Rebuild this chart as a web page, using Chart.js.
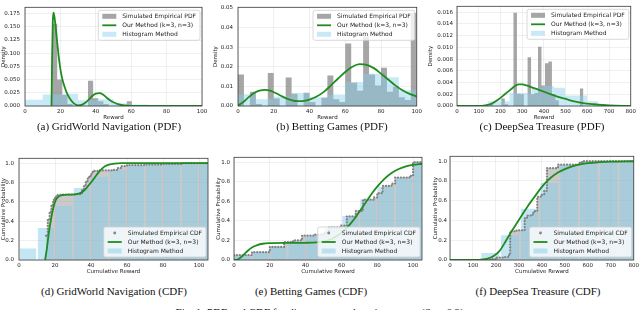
<!DOCTYPE html>
<html>
<head>
<meta charset="utf-8">
<script src="https://cdn.jsdelivr.net/npm/chart.js@4.4.1/dist/chart.umd.min.js"></script>
<style>
  html, body { margin: 0; padding: 0; background: #fff; }
  body { width: 640px; height: 310px; position: relative; overflow: hidden; }
  canvas { position: absolute; }
  .cap { position: absolute; font-family: 'Liberation Serif', 'DejaVu Serif', serif; font-size: 11px; line-height: 13px; color: #111; white-space: nowrap; transform: translateX(-50%); }
</style>
</head>
<body>
<canvas id="gridPdf"></canvas>
<canvas id="betPdf"></canvas>
<canvas id="seaPdf"></canvas>
<canvas id="gridCdf"></canvas>
<canvas id="betCdf"></canvas>
<canvas id="seaCdf"></canvas>
<div class="cap" style="left:109px;top:120px">(a) GridWorld Navigation (PDF)</div>
<div class="cap" style="left:332px;top:120px">(b) Betting Games (PDF)</div>
<div class="cap" style="left:542px;top:120px">(c) DeepSea Treasure (PDF)</div>
<div class="cap" style="left:114px;top:285px">(d) GridWorld Navigation (CDF)</div>
<div class="cap" style="left:311px;top:285px">(e) Betting Games (CDF)</div>
<div class="cap" style="left:538px;top:285px">(f) DeepSea Treasure (CDF)</div>
<div class="cap" style="left:321px;top:306px">Fig. 1: PDF and CDF for discrete reward environments (Sec. 6.2).</div>
<script>
// ---- (a) GridWorld Navigation, PDF ----
const gridPdfGrayEdges = [15.3, 18.2, 21.1, 24, 26.9, 35.6, 38.5, 41.4, 44.3, 47.2, 57.5, 60.4];
const gridPdfGrayHeights = [0.156, 0.05, 0.021, 0.004, 0, 0.048, 0.0145, 0.009, 0.004, 0, 0.009];
const gridPdfHistEdges = [0, 10, 20, 30, 40, 50, 60, 70];
const gridPdfHistHeights = [0.012, 0.022, 0.023, 0.011, 0.013, 0.005, 0.003];
const gridPdfCurveX = [15, 15.3, 15.7, 16.1, 16.6, 17.3, 18, 19, 20, 21, 22.5, 24, 26, 28, 30, 32, 34, 36, 38, 40, 42, 44, 46, 48, 50, 53, 56, 60, 70, 100];
const gridPdfCurveY = [0, 0.09, 0.16, 0.177, 0.17, 0.15, 0.127, 0.095, 0.07, 0.052, 0.035, 0.022, 0.011, 0.004, 0.001, 0.002, 0.006, 0.012, 0.019, 0.0235, 0.0245, 0.022, 0.016, 0.011, 0.007, 0.003, 0.001, 0.0002, 0, 0];

// ---- (b) Betting Games, PDF ----
const betPdfGrayEdges = [0, 3.33, 6.67, 10, 13.33, 16.67, 20, 23.33, 26.67, 30, 33.33, 36.67, 40, 43.33, 46.67, 50, 53.33, 56.67, 60, 63.33, 66.67, 70, 73.33, 76.67, 80, 83.33, 86.67, 90, 93.33, 96.67, 100];
const betPdfGrayHeights = [0.016, 0, 0.0072, 0.001, 0, 0.0168, 0.0038, 0, 0.0145, 0.0062, 0, 0.0068, 0.002, 0, 0.0042, 0.0155, 0.0035, 0.002, 0.0318, 0.0118, 0.0078, 0.0355, 0.016, 0.0105, 0.0195, 0.0072, 0.0098, 0.0045, 0.003, 0.0475];
const betPdfHistEdges = [0, 10, 20, 30, 40, 50, 60, 70, 80, 90, 100];
const betPdfHistHeights = [0.006, 0.0034, 0.0048, 0.0066, 0.0044, 0.0058, 0.0122, 0.0164, 0.0146, 0.008];
const betPdfCurveX = [0, 3, 6, 9, 12, 15, 18, 21, 24, 27, 30, 33, 36, 40, 44, 48, 52, 56, 60, 64, 68, 72, 76, 80, 84, 88, 92, 96, 100];
const betPdfCurveY = [0.0003, 0.002, 0.0045, 0.0066, 0.0078, 0.0082, 0.0078, 0.0066, 0.0052, 0.0039, 0.003, 0.0025, 0.0025, 0.0032, 0.0048, 0.0072, 0.0105, 0.014, 0.0173, 0.02, 0.0213, 0.021, 0.0193, 0.0165, 0.0135, 0.0105, 0.008, 0.0062, 0.0048];

// ---- (c) DeepSea Treasure, PDF ----
const seaPdfGrayEdges = [150, 166, 204, 220, 236, 260, 276, 292, 308, 325, 341, 357, 373, 389, 405, 421, 437, 453, 469, 566, 582];
const seaPdfGrayHeights = [0.0003, 0, 0.0013, 0.0003, 0, 0.0159, 0.0021, 0.002, 0, 0.0083, 0.002, 0.0022, 0.0101, 0.0035, 0.0073, 0.0076, 0.002, 0.001, 0, 0.003];
const seaPdfHistEdges = [140, 191, 242, 293, 344, 395, 446, 497, 548, 599, 650];
const seaPdfHistHeights = [0.0008, 0.0008, 0.0022, 0.0022, 0.0031, 0.0034, 0.0031, 0.0018, 0.0018, 0.0008];
const seaPdfCurveX = [0, 100, 130, 160, 190, 220, 250, 270, 285, 300, 320, 350, 375, 410, 440, 470, 500, 540, 580, 630, 700, 800];
const seaPdfCurveY = [0, 0, 0.0001, 0.0004, 0.0011, 0.002, 0.0029, 0.0035, 0.0037, 0.00368, 0.0035, 0.0031, 0.0028, 0.0023, 0.0019, 0.0015, 0.0012, 0.0008, 0.0005, 0.0003, 0.0001, 0];

// ---- (d) GridWorld Navigation, CDF ----
const gridCdfEmpX = [15, 16, 17, 18, 19, 20, 21, 23, 32, 34, 35, 36, 37, 38, 39, 40, 41, 42, 45, 52, 55, 57, 60, 70, 80, 90, 105];
const gridCdfEmpY = [0.25, 0.42, 0.5, 0.57, 0.62, 0.655, 0.67, 0.675, 0.68, 0.69, 0.72, 0.76, 0.8, 0.84, 0.87, 0.89, 0.91, 0.92, 0.925, 0.93, 0.95, 0.97, 0.98, 0.985, 0.99, 1.0, 1.0];
const gridCdfBinCenters = [5, 15, 25, 35, 45, 55, 65, 75, 85, 95, 105];
const gridCdfBinHeights = [0.12, 0.33, 0.557, 0.743, 0.86, 0.933, 0.978, 0.985, 0.99, 0.995, 1.0];
const gridCdfCurveX = [14.5, 15.5, 16.5, 17.5, 18.5, 19.5, 20.5, 22, 24, 28, 32, 34, 36, 38, 40, 42, 44, 46, 48, 50, 53, 57, 105];
const gridCdfCurveY = [0, 0.12, 0.27, 0.39, 0.49, 0.57, 0.62, 0.655, 0.67, 0.675, 0.68, 0.69, 0.715, 0.755, 0.8, 0.85, 0.9, 0.94, 0.97, 0.985, 0.995, 1.0, 1.0];

// ---- (e) Betting Games, CDF ----
const betCdfEmpX = [0, 10, 20, 28, 33, 38, 45, 50, 53, 60, 63, 68, 72, 78, 80, 83, 88, 90, 98, 100, 105];
const betCdfEmpY = [0.05, 0.08, 0.133, 0.183, 0.2, 0.25, 0.26, 0.277, 0.333, 0.35, 0.445, 0.5, 0.617, 0.64, 0.683, 0.757, 0.78, 0.843, 0.86, 1.0, 1.0];
const betCdfBinCenters = [5, 15, 25, 35, 45, 55, 65, 75, 85, 95, 105];
const betCdfBinHeights = [0.05, 0.08, 0.14, 0.19, 0.25, 0.33, 0.45, 0.62, 0.75, 0.84, 1.0];
const betCdfCurveX = [0, 2, 4, 6, 8, 10, 13, 16, 20, 30, 40, 46, 50, 54, 58, 62, 65, 68, 71, 74, 77, 80, 84, 88, 92, 96, 100, 105];
const betCdfCurveY = [0, 0.005, 0.03, 0.065, 0.1, 0.128, 0.153, 0.166, 0.172, 0.175, 0.176, 0.18, 0.19, 0.21, 0.25, 0.31, 0.37, 0.44, 0.52, 0.6, 0.68, 0.75, 0.83, 0.89, 0.93, 0.958, 0.973, 0.984];

// ---- (f) DeepSea Treasure, CDF ----
const seaCdfEmpX = [150, 180, 205, 230, 255, 262, 290, 325, 335, 360, 370, 380, 395, 410, 422, 470, 565, 580, 800];
const seaCdfEmpY = [0.004, 0.01, 0.025, 0.03, 0.05, 0.29, 0.3, 0.42, 0.45, 0.48, 0.5, 0.64, 0.66, 0.7, 0.93, 0.965, 0.99, 1.0, 1.0];
const seaCdfBinCenters = [175, 261, 347, 433, 519, 605, 691, 777];
const seaCdfBinHeights = [0.07, 0.25, 0.52, 0.78, 0.96, 0.995, 1.0, 1.0];
const seaCdfCurveX = [0, 100, 130, 160, 190, 215, 240, 265, 290, 315, 340, 365, 390, 415, 440, 470, 500, 550, 600, 650, 700, 800];
const seaCdfCurveY = [0, 0, 0.002, 0.012, 0.04, 0.09, 0.18, 0.28, 0.37, 0.46, 0.55, 0.63, 0.71, 0.78, 0.835, 0.885, 0.92, 0.96, 0.98, 0.99, 0.996, 1.0];

// axis ranges: [min, max, step] ; y gets a 4th entry for decimals
const pdfGridX = [0, 100, 20], pdfGridY = [0, 0.187, 0.025, 3];
const pdfBetX = [0, 100, 20], pdfBetY = [0, 0.0503, 0.01, 2];
const pdfSeaX = [0, 800, 100], pdfSeaY = [0, 0.017, 0.002, 3];
const cdfGridX = [0, 105, 20], cdfBetX = [0, 105, 20], cdfSeaX = [0, 800, 100];
const cdfY = [0, 1.05, 0.2, 1];

const GREEN = '#1f8c1f';
const GRAY_BAR = 'rgba(128,128,128,0.7)';
const BLUE_PDF = 'rgba(135,206,235,0.45)';
const BLUE_CDF = 'rgba(135,206,235,0.5)';
const GRAY_FILL = 'rgba(128,128,128,0.42)';
const DOT_GRAY = 'rgba(125,125,125,0.95)';
const INK = '#222';
const GRID = 'rgba(0,0,0,0.1)';
const TICK_FONT = { family: "'DejaVu Sans', sans-serif", size: 5.5 };
const TITLE_FONT = { family: "'DejaVu Sans', sans-serif", size: 5.5 };

// in Chart.js 'before' keeps a point's value until the next point (histogram style)
const STEP = 'before';
const stepData = (edges, heights) => edges.map((x, i) => ({ x, y: i < heights.length ? heights[i] : 0 }));
const pairData = (xs, ys) => xs.map((x, i) => ({ x, y: ys[i] }));

// axes frame (spines)
const frame = {
  id: 'frame',
  afterDatasetsDraw(chart) {
    const { ctx, chartArea: a } = chart;
    ctx.save();
    ctx.strokeStyle = '#3a3a3a';
    ctx.lineWidth = 0.8;
    ctx.strokeRect(a.left, a.top, a.right - a.left, a.bottom - a.top);
    ctx.restore();
  }
};

// matplotlib-like legend drawn inside the axes
const insideLegend = {
  id: 'insideLegend',
  afterDraw(chart, args, opts) {
    const { ctx, chartArea: a } = chart;
    const items = chart.data.datasets.filter(d => d.legendKind).sort((p, q) => p.legendRank - q.legendRank);
    const fs = 6, rowH = 9, padL = 4, handle = 14, gap = 6, padR = 4, padT = 1.5;
    ctx.save();
    ctx.font = fs + "px 'DejaVu Sans', sans-serif";
    const textW = Math.max(...items.map(d => ctx.measureText(d.label).width));
    const w = padL + handle + gap + textW + padR;
    const h = padT * 2 + rowH * items.length;
    const x = a.right - opts.marginX - w;
    const y = opts.anchor === 'top' ? a.top + opts.marginY : a.bottom - opts.marginY - h;
    ctx.beginPath();
    ctx.roundRect(x, y, w, h, 2);
    ctx.fillStyle = 'rgba(255,255,255,0.8)';
    ctx.fill();
    ctx.strokeStyle = '#cfcfcf';
    ctx.lineWidth = 0.8;
    ctx.stroke();
    items.forEach((d, i) => {
      const cy = y + padT + rowH * i + rowH / 2;
      const hx = x + padL;
      if (d.legendKind === 'patch') {
        ctx.fillStyle = d.legendColor;
        ctx.fillRect(hx, cy - 2.5, handle, 5);
      } else if (d.legendKind === 'line') {
        ctx.strokeStyle = d.borderColor;
        ctx.lineWidth = 1.8;
        ctx.beginPath();
        ctx.moveTo(hx, cy);
        ctx.lineTo(hx + handle, cy);
        ctx.stroke();
      } else if (d.legendKind === 'dot') {
        ctx.fillStyle = DOT_GRAY;
        ctx.beginPath();
        ctx.arc(hx + handle / 2, cy, 1.4, 0, Math.PI * 2);
        ctx.fill();
      }
      ctx.fillStyle = INK;
      ctx.textBaseline = 'middle';
      ctx.textAlign = 'left';
      ctx.fillText(d.label, hx + handle + gap, cy + 0.3);
    });
    ctx.restore();
  }
};

function scalesFor(box, xr, yr, xTitle, yTitle) {
  return {
    x: {
      type: 'linear', min: xr[0], max: xr[1], offset: false,
      ticks: { stepSize: xr[2], includeBounds: false, autoSkip: false, maxRotation: 0, padding: 2, font: TICK_FONT, color: INK },
      grid: { color: GRID, lineWidth: 0.6, drawTicks: false, offset: false },
      border: { display: false },
      title: { display: true, text: xTitle, font: TITLE_FONT, color: INK, padding: 0 },
      afterFit: s => { s.height = box.xh; }
    },
    y: {
      type: 'linear', min: yr[0], max: yr[1],
      ticks: { stepSize: yr[2], includeBounds: false, padding: box.tp, font: TICK_FONT, color: INK, callback: v => v.toFixed(yr[3]) },
      grid: { color: GRID, lineWidth: 0.6, drawTicks: false },
      border: { display: false },
      title: { display: true, text: yTitle, font: TITLE_FONT, color: INK, padding: 0 },
      afterFit: s => { s.width = box.yw; }
    }
  };
}

function build(id, box, datasets, scales, legendOpts) {
  const canvas = document.getElementById(id);
  canvas.width = box.w;
  canvas.height = box.h;
  Object.assign(canvas.style, { left: box.x + 'px', top: box.y + 'px', width: box.w + 'px', height: box.h + 'px' });
  return new Chart(canvas, {
    type: 'line',
    data: { datasets },
    options: {
      responsive: false,
      animation: false,
      devicePixelRatio: 1,
      layout: { padding: { left: 0, top: box.pt, right: box.pr, bottom: 0 } },
      plugins: { legend: { display: false }, tooltip: { enabled: false }, insideLegend: legendOpts },
      scales
    },
    plugins: [frame, insideLegend]
  });
}

function pdfChart(id, box, gEdges, gHeights, hEdges, hHeights, cX, cY, xr, yr) {
  const datasets = [
    { label: 'Simulated Empirical PDF', legendKind: 'patch', legendRank: 1, legendColor: GRAY_BAR,
      data: stepData(gEdges, gHeights), stepped: STEP, fill: 'origin', backgroundColor: GRAY_BAR,
      borderColor: 'transparent', borderWidth: 0, pointRadius: 0, order: 3 },
    { label: 'Histogram Method', legendKind: 'patch', legendRank: 3, legendColor: BLUE_PDF,
      data: stepData(hEdges, hHeights), stepped: STEP, fill: 'origin', backgroundColor: BLUE_PDF,
      borderColor: 'transparent', borderWidth: 0, pointRadius: 0, order: 2 },
    { label: 'Our Method (k=3, n=3)', legendKind: 'line', legendRank: 2,
      data: pairData(cX, cY), borderColor: GREEN, borderWidth: 1.8, pointRadius: 0,
      cubicInterpolationMode: 'monotone', fill: false, order: 1 }
  ];
  return build(id, box, datasets, scalesFor(box, xr, yr, 'Reward', 'Density'), { anchor: 'top', marginX: 2, marginY: 3 });
}

function cdfChart(id, box, eX, eY, bC, bH, cX, cY, xr) {
  const datasets = [
    { label: 'empirical area', data: pairData(eX, eY), stepped: STEP, fill: 'origin', backgroundColor: GRAY_FILL,
      borderColor: 'transparent', borderWidth: 0, pointRadius: 0, order: 4 },
    { type: 'bar', label: 'Histogram Method', legendKind: 'patch', legendRank: 3, legendColor: BLUE_CDF,
      data: pairData(bC, bH), backgroundColor: BLUE_CDF, borderWidth: 0,
      barPercentage: 0.9, categoryPercentage: 1, order: 3 },
    { label: 'Simulated Empirical CDF', legendKind: 'dot', legendRank: 1,
      data: pairData(eX, eY), stepped: STEP, fill: false, borderColor: DOT_GRAY, borderWidth: 2.3,
      borderDash: [0.01, 2.9], borderCapStyle: 'round', pointRadius: 0, order: 2 },
    { label: 'Our Method (k=3, n=3)', legendKind: 'line', legendRank: 2,
      data: pairData(cX, cY), borderColor: GREEN, borderWidth: 1.8, pointRadius: 0,
      cubicInterpolationMode: 'monotone', fill: false, order: 1 }
  ];
  return build(id, box, datasets, scalesFor(box, xr, cdfY, 'Cumulative Reward', 'Cumulative Probability'), { anchor: 'bottom', marginX: 2, marginY: 3 });
}

pdfChart('gridPdf', { x: 0, y: -1, w: 210, h: 122, pt: 0, pr: 8, yw: 25, xh: 15, tp: 5 },
  gridPdfGrayEdges, gridPdfGrayHeights, gridPdfHistEdges, gridPdfHistHeights, gridPdfCurveX, gridPdfCurveY, pdfGridX, pdfGridY);
pdfChart('betPdf', { x: 212, y: -1, w: 212, h: 122, pt: 0, pr: 6, yw: 26, xh: 15, tp: 5 },
  betPdfGrayEdges, betPdfGrayHeights, betPdfHistEdges, betPdfHistHeights, betPdfCurveX, betPdfCurveY, pdfBetX, pdfBetY);
pdfChart('seaPdf', { x: 427, y: -1, w: 211, h: 122, pt: 0, pr: 5, yw: 30, xh: 15, tp: 4 },
  seaPdfGrayEdges, seaPdfGrayHeights, seaPdfHistEdges, seaPdfHistHeights, seaPdfCurveX, seaPdfCurveY, pdfSeaX, pdfSeaY);

cdfChart('gridCdf', { x: 0, y: 150, w: 210, h: 125, pt: 5, pr: 2, yw: 19, xh: 15, tp: 5 },
  gridCdfEmpX, gridCdfEmpY, gridCdfBinCenters, gridCdfBinHeights, gridCdfCurveX, gridCdfCurveY, cdfGridX);
cdfChart('betCdf', { x: 215, y: 150, w: 210, h: 125, pt: 5, pr: 3, yw: 19, xh: 15, tp: 4 },
  betCdfEmpX, betCdfEmpY, betCdfBinCenters, betCdfBinHeights, betCdfCurveX, betCdfCurveY, cdfBetX);
cdfChart('seaCdf', { x: 432, y: 150, w: 209, h: 125, pt: 5, pr: 6, yw: 18, xh: 15, tp: 3 },
  seaCdfEmpX, seaCdfEmpY, seaCdfBinCenters, seaCdfBinHeights, seaCdfCurveX, seaCdfCurveY, cdfSeaX);
</script>
</body>
</html>
